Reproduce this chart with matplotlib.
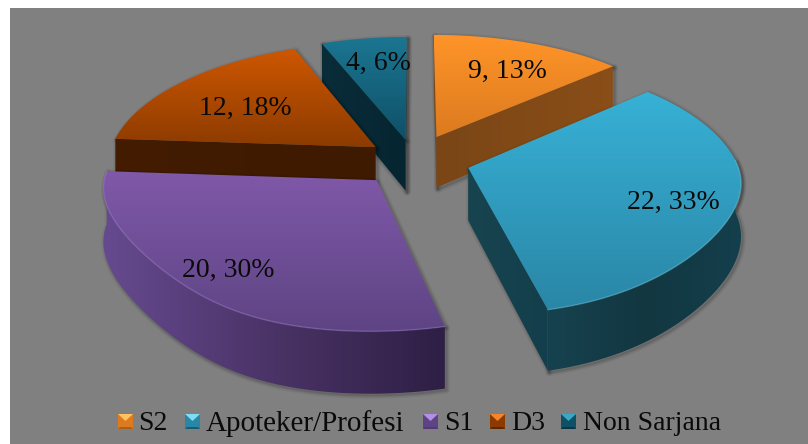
import numpy as np
from matplotlib import pyplot as plt
from matplotlib.colors import LinearSegmentedColormap
from matplotlib.patches import Polygon, Rectangle
from matplotlib.path import Path

# data
labels = ["S2", "Apoteker/Profesi", "S1", "D3", "Non Sarjana"]
values = [9, 22, 20, 12, 4]

# top gradient, radial wall gradient, outer wall gradient
top_colors = [("#ff9529", "#dc7a1f"), ("#37b1d6", "#2a86a6"), ("#8059a9", "#5e4484"), ("#cf5700", "#8c3b00"), ("#1b7692", "#0f5067")]
wall_colors = [("#7a4616", "#8a4e18"), ("#17444f", "#123f4b"), ("#4a3268", "#4a3268"), ("#431c02", "#3e1a00"), ("#0a2d3a", "#052530")]
arc_colors = [("#8a4e18", "#7a4616"), ("#16424f", "#123741", "#143f4c"), ("#664a90", "#4a3366", "#2e1f45"), ("#4a2002", "#3e1a00"), ("#0e3a49", "#0a2d3a")]
light_colors = ["#ffc25e", "#7fdcf2", "#b48fe6", "#f5842a", "#3aa7c4"]

# label centre in pixels
label_pos = [(507, 71), (673, 202), (228, 270), (245, 108), (378, 63)]
# legend layout: marker left, text left, font size
legend_x = [(118, 138), (185, 206), (423, 444), (490, 511), (561, 583)]
legend_size = [20, 21, 20, 20, 20]

# pie projection
cx, cy = 414, 160
A, B, p, D = 268, 123, 0.144, 52
k_left, k_right = 0.17, 0.09
explode = [0.21, 0.21, 0.21, 0.18, 0.17]
# draw order, back to front
order = [4, 0, 3, 1, 2]

plt.rcParams['font.family'] = ['Liberation Serif', 'DejaVu Serif']
fig = plt.figure(figsize=(8.08, 4.44), dpi=100)
ax = fig.add_axes([0, 0, 1, 1])
ax.axis('off')
ax.add_patch(Rectangle((10, 8), 798, 436, fc="#808080", ec="none", zorder=0))

z = [1]


def proj(u, v, depth=0.0):
    s = 1 / (1 + p * v)
    k = np.where(u < 0, k_left, k_right)
    front = np.minimum(v, 0)
    x = cx + A * u * s * (1 - k * u ** 2 * front ** 2)
    return np.column_stack([x, cy - B * v * s + depth * D * s])


def grad(xy, c, horiz=False):
    # polygon filled with a gradient
    z[0] += 1
    cmap = LinearSegmentedColormap.from_list("g", list(c))
    arr = np.linspace(0, 1, 256)
    arr = arr.reshape(1, -1) if horiz else arr.reshape(-1, 1)
    poly = Polygon(xy, closed=True, fc="none", ec="none", transform=ax.transData)
    ax.add_patch(poly)
    ext = [xy[:, 0].min(), xy[:, 0].max(), xy[:, 1].max(), xy[:, 1].min()]
    im = ax.imshow(arr, extent=ext, aspect='auto', cmap=cmap, zorder=z[0], interpolation='bilinear')
    im.set_clip_path(poly)


def shadow(xy):
    z[0] += 1
    for w, al in [(5, 0.05), (3, 0.07), (1.5, 0.09)]:
        ax.add_patch(Polygon(xy + [1.5, 1.5], closed=True, fc="none", ec="black", lw=w, alpha=al, zorder=z[0], joinstyle='round'))


total = sum(values)
edges = np.cumsum([0] + values) / total * 2 * np.pi

for i in order:
    a0, a1 = edges[i], edges[i + 1]
    mid = (a0 + a1) / 2
    ox, oy = explode[i] * np.sin(mid), explode[i] * np.cos(mid)
    t = np.linspace(a0, a1, 100)
    u = np.r_[ox, ox + np.sin(t)]
    v = np.r_[oy, oy + np.cos(t)]
    top = proj(u, v)
    bot = proj(u, v, 1)
    top_path = Path(top)
    polys = []
    # only the faces that show from above
    front = np.cos(t) < 0.08
    if front.sum() > 1:
        arc_top, arc_bot = top[1:][front], bot[1:][front]
        polys.append((np.vstack([arc_top, arc_bot[::-1]]), arc_colors[i]))
    for rim in (1, -1):
        m = (top[0] + top[rim]) / 2 + [0, 3]
        if not top_path.contains_point(m):
            polys.append((np.vstack([top[0], top[rim], bot[rim], bot[0]]), wall_colors[i]))
    for xy, c in polys:
        shadow(xy)
    shadow(top)
    for xy, c in polys:
        grad(xy, c, horiz=True)
    grad(top, top_colors[i])
    # light rim on the outer edge
    if front.sum() > 1:
        z[0] += 1
        ax.plot(arc_top[:, 0], arc_top[:, 1], color=light_colors[i], lw=1.0, alpha=0.35, zorder=z[0])

# data labels
for i in range(len(values)):
    pct = round(100 * values[i] / total)
    ax.text(label_pos[i][0], label_pos[i][1], f"{values[i]}, {pct}%", ha='center', va='center',
            fontsize=20, color="#0a0a0a", zorder=100)

# legend
for i in range(len(labels)):
    mx, tx = legend_x[i]
    y0, y1, x1 = 414, 429, mx + 15
    xc, yc = mx + 7.5, y0 + 7
    base, dark = top_colors[i]
    ax.add_patch(Rectangle((mx, y0), 15, 15, fc=dark, ec="none", zorder=90))
    ax.add_patch(Polygon([(mx, y1), (x1, y1), (x1 - 2, y1 - 2), (mx + 2, y1 - 2)], fc=wall_colors[i][1], alpha=0.6, ec="none", zorder=91))
    ax.add_patch(Polygon([(mx, y0), (x1, y0), (xc, yc)], fc=light_colors[i], ec="none", zorder=91))
    ax.text(tx, 423.5, labels[i], ha='left', va='center', fontsize=legend_size[i], color="#0a0a0a", zorder=100)

ax.set_xlim(0, 808)
ax.set_ylim(444, 0)
fig.savefig('out.png', dpi=100, facecolor='white')
